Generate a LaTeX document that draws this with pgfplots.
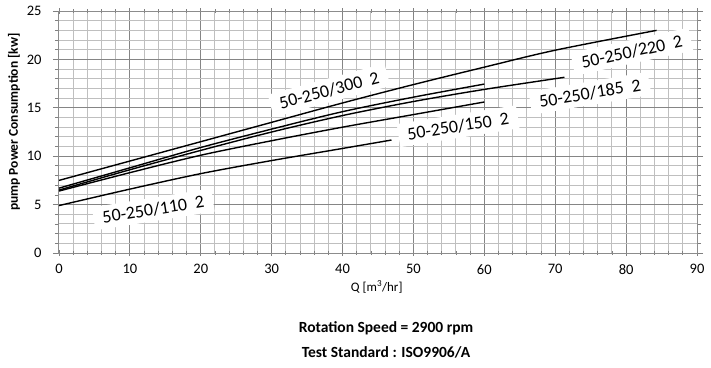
\documentclass[border=0pt]{standalone}
\usepackage{pgfplots}
\pgfplotsset{compat=1.18}
\usepackage{fontspec}
\setmainfont{Carlito}
\begin{document}
\begin{tikzpicture}[x=1pt,y=1pt]
\useasboundingbox (0,0) rectangle (711,367);
\begin{axis}[
  at={(59pt,114pt)}, anchor=south west,
  width=638pt, height=242pt, scale only axis,
  xmin=0, xmax=90, ymin=0, ymax=25,
  xtick distance=10, ytick distance=5,
  minor x tick num=4, minor y tick num=4,
  grid=both,
  major grid style={draw=black!48, line width=1pt},
  minor grid style={draw=black!25, line width=1pt},
  axis line style={draw=black!45, line width=1pt},
  xtick align=center, ytick align=outside,
  major tick length=6pt, minor tick length=4pt,
  tick style={draw=black!50, line width=0.8pt},
  /pgf/number format/assume math mode=true,
  tick label style={font=\fontsize{14.5}{16}\selectfont},
  yticklabel style={xshift=-8pt},
  xticklabel style={yshift=-5pt},
  xlabel={Q [m\textsuperscript{3}/hr]},
  ylabel={\textbf{pump Power Consumption [kw]}},
  xlabel style={at={(axis description cs:0.498,-0.140)}, anchor=center, font=\fontsize{13}{15}\selectfont},
  ylabel style={at={(axis description cs:-0.0705,0.541)}, anchor=center, font=\fontsize{13.5}{15}\selectfont},
  clip=false,
]
% 50-250/300 2
\addplot[black, line width=1.4pt, smooth, tension=0.5] coordinates {(0,7.5) (10,9.5) (20,11.5) (30,13.5) (40,15.5) (50,17.4) (60,19.2) (70,20.95) (84.3,23.0)};
% 50-250/220 2
\addplot[black, line width=1.4pt, smooth, tension=0.5] coordinates {(0,6.5) (10,8.6) (20,10.6) (30,12.5) (40,14.2) (50,15.65) (60,16.9) (71.3,18.15)};
% 50-250/185 2
\addplot[black, line width=1.4pt, smooth, tension=0.5] coordinates {(0,6.7) (10,8.8) (20,10.9) (30,12.8) (40,14.6) (50,16.1) (60,17.45)};
% 50-250/150 2
\addplot[black, line width=1.4pt, smooth, tension=0.5] coordinates {(0,6.4) (10,8.3) (20,10.1) (30,11.6) (40,13.0) (50,14.3) (60,15.6)};
% 50-250/110 2
\addplot[black, line width=1.4pt, smooth, tension=0.5] coordinates {(0,4.9) (10,6.6) (20,8.2) (30,9.55) (40,10.8) (46.9,11.67)};

\tikzset{lbl/.style={fill=white, inner xsep=9pt, inner ysep=5pt, font=\fontsize{18}{20}\selectfont}}
\node[lbl, rotate=15] at (axis cs:38.1,16.8) {50-250/300\hspace{0.45em}2};
\node[lbl, rotate=12] at (axis cs:80.8,20.8) {50-250/220\hspace{0.45em}2};
\node[lbl, rotate=9.5] at (axis cs:74.9,16.5) {50-250/185\hspace{0.45em}2};
\node[lbl, rotate=9] at (axis cs:56.3,13.1) {50-250/150\hspace{0.45em}2};
\node[lbl, rotate=9] at (axis cs:13.3,4.5) {50-250/110\hspace{0.45em}2};
\end{axis}
\node[font=\bfseries\fontsize{15.5}{18}\selectfont] at (386,39) {Rotation Speed = 2900 rpm};
\node[font=\bfseries\fontsize{15.5}{18}\selectfont] at (386,15) {Test Standard : ISO9906/A};
\end{tikzpicture}
\end{document}
